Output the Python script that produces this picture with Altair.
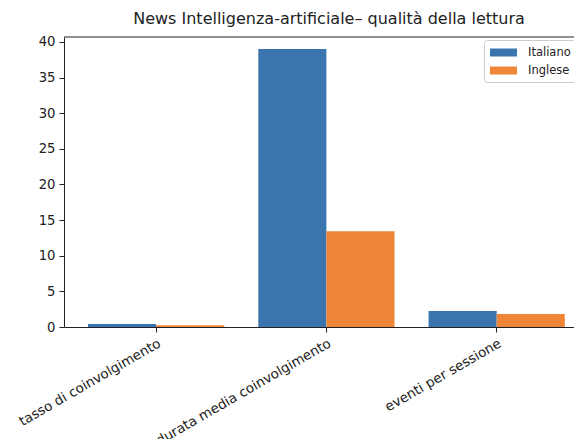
import altair as alt
import pandas as pd

categories = ["tasso di coinvolgimento", "durata media coinvolgimento", "eventi per sessione"]
series = ["Italiano", "Inglese"]
italiano = [0.42, 39.0, 2.25]
inglese = [0.24, 13.45, 1.82]
colors = ["#3a75b0", "#ef8637"]
y_ticks = [0, 5, 10, 15, 20, 25, 30, 35, 40]
title_text = "News Intelligenza-artificiale– qualità della lettura"

rows = []
for c, a, b in zip(categories, italiano, inglese):
    rows.append({"cat": c, "serie": series[0], "val": a})
    rows.append({"cat": c, "serie": series[1], "val": b})
df = pd.DataFrame(rows)

W, H = 510, 290
FONT = "DejaVu Sans"
INK = "#222222"

bars = alt.Chart(df).mark_bar().encode(
    x=alt.X("cat:N", sort=categories, title=None,
            scale=alt.Scale(paddingInner=0.2, paddingOuter=0.0975, align=0.723),
            axis=alt.Axis(labelAngle=-30, labelAlign="right", labelBaseline="top",
                          labelFontSize=13.5, labelFont=FONT, labelColor=INK,
                          labelLimit=400, tickSize=5, tickColor=INK,
                          domainColor=INK, labelPadding=4)),
    xOffset=alt.XOffset("serie:N", sort=series,
                        scale=alt.Scale(paddingInner=0, paddingOuter=0)),
    y=alt.Y("val:Q", title=None,
            scale=alt.Scale(domain=[0, 40.7], nice=False),
            axis=alt.Axis(values=y_ticks, grid=False, labelFontSize=13.2, labelFont=FONT,
                          labelColor=INK, tickSize=5, tickColor=INK,
                          domainColor=INK, labelPadding=4)),
    color=alt.Color("serie:N", sort=series,
                    scale=alt.Scale(domain=series, range=colors),
                    legend=alt.Legend(title=None, orient="none", legendX=420, legendY=3,
                                      symbolType="M-1,-0.615L3.15,-0.615L3.15,0.615L-1,0.615Z",
                                      symbolSize=169, symbolStrokeWidth=0,
                                      labelFontSize=11.5, labelFont=FONT, labelColor=INK,
                                      labelOffset=25, rowPadding=6,
                                      padding=6, strokeColor="#cccccc", fillColor="white",
                                      cornerRadius=3)),
)

top = alt.Chart(pd.DataFrame({"a": [0]})).mark_rule(color=INK, strokeWidth=1).encode(
    x=alt.value(0), x2=alt.value(W), y=alt.value(0)
)

chart = alt.layer(bars, top).properties(
    width=W, height=H,
    title=alt.Title(title_text, fontSize=16, font=FONT, fontWeight="normal",
                    color=INK, anchor="middle", offset=8, dx=10),
    autosize=alt.AutoSizeParams(type="none"),
    padding={"left": 56, "top": 29, "right": 0, "bottom": 112},
).configure_view(stroke=None)

chart.save("out.html", embed_options={"renderer": "svg", "actions": False})
